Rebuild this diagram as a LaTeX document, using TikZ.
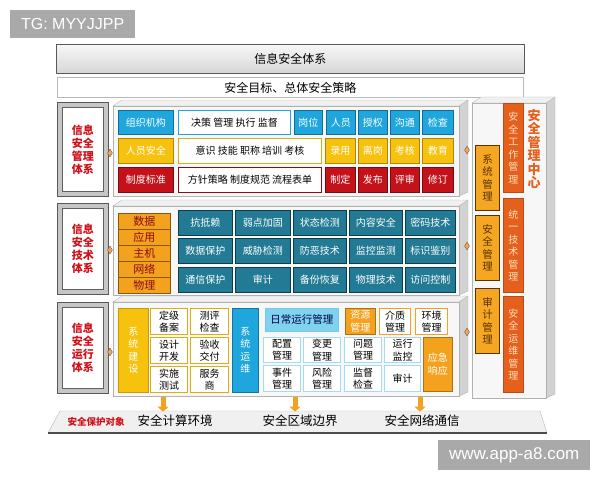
\documentclass[tikz,border=0pt]{standalone}
\usepackage{fontspec}
\setmainfont{Noto Sans CJK SC}
\newfontfamily\wmfont{Liberation Sans}
\usetikzlibrary{arrows.meta,shapes.geometric}

\definecolor{mgblue}{HTML}{1EA6DD}
\definecolor{mgyellow}{HTML}{F6C20E}
\definecolor{mgred}{HTML}{C4121A}
\definecolor{tkteal}{HTML}{227A94}
\definecolor{tkorange}{HTML}{F4A11E}
\definecolor{oplight}{HTML}{7FD3F0}
\definecolor{ctred}{HTML}{E4601C}
\definecolor{ctorange}{HTML}{F5A623}
\definecolor{ctbrown}{HTML}{5A3200}
\definecolor{labred}{HTML}{D0101A}
\definecolor{wmgray}{HTML}{A9A9A9}

\tikzset{
  cellbox/.style={draw, line width=.6pt, inner sep=0pt, align=center, font=\fontsize{10}{12.5}\selectfont},
  bluecell/.style={cellbox, fill=mgblue, draw=mgblue!65!black, text=white},
  yellowcell/.style={cellbox, fill=mgyellow, draw=mgyellow!70!black, text=white},
  redcell/.style={cellbox, fill=mgred, draw=mgred!60!black, text=white},
  bluewhite/.style={cellbox, fill=white, draw=mgblue, line width=1pt},
  yellowwhite/.style={cellbox, fill=white, draw=mgyellow!90!black, line width=1pt},
  redwhite/.style={cellbox, fill=white, draw=mgred!70!black, line width=1pt},
  stackcell/.style={cellbox, fill=tkorange, draw=tkorange!55!black, text=mgred!70!black, font=\fontsize{11}{13}\selectfont},
  tealcell/.style={cellbox, fill=tkteal, draw=tkteal!50!black, text=white},
  yellowbar/.style={cellbox, fill=mgyellow, draw=mgyellow!80!black, text=white},
  bluebar/.style={cellbox, fill=mgblue, draw=mgblue!70!black, text=white},
  yellowframe/.style={cellbox, fill=white, draw=mgyellow!90!black, line width=1pt},
  lightcell/.style={cellbox, fill=oplight, draw=mgblue!60, text=blue!25!black, font=\fontsize{10.5}{12.5}\selectfont},
  orangecell/.style={cellbox, fill=tkorange, draw=tkorange!70!black, text=white},
  orangewhite/.style={cellbox, fill=white, draw=tkorange, line width=1pt},
  cyanframe/.style={cellbox, fill=white, draw=mgblue!40, line width=1pt},
  centerbox/.style={cellbox, fill=ctorange, draw=ctbrown, line width=1pt, text=ctbrown, font=\fontsize{10.5}{12.5}\selectfont},
  centerbar/.style={cellbox, fill=ctred, draw=ctred!80!black, text=orange!25, font=\fontsize{10}{12.5}\selectfont},
  centertitle/.style={inner sep=0pt, align=center, text=ctred, font=\bfseries\fontsize{13}{13.5}\selectfont},
  labelframe/.style={draw=gray!70!black, fill=gray!45, line width=.6pt},
  labelinner/.style={draw=gray!75!black, fill=white, line width=.6pt, inner sep=0pt, align=center, text=labred, font=\bfseries\fontsize{11}{13}\selectfont},
  titlebar/.style={draw=gray!70!black, line width=.8pt, top color=gray!6, bottom color=gray!32, font=\fontsize{12}{14}\selectfont},
  goalbar/.style={draw=gray!55, line width=.8pt, fill=white, font=\fontsize{12}{14}\selectfont},
  knot/.style={diamond, fill=brown!45!orange!70, draw=brown!60!black, line width=.3pt, minimum width=5pt, minimum height=8pt, inner sep=0pt},
  downarrow/.style={line width=5pt, draw=tkorange, -{Triangle[width=11pt,length=5pt]}},
  objtitle/.style={text=labred, font=\bfseries\fontsize{9.5}{11}\selectfont},
  objtext/.style={font=\fontsize{12.5}{14}\selectfont},
  wmbox/.style={fill=wmgray, inner sep=0pt, text=white},
}

% cell: name, style, x1, y1, x2, y2, text
\newcommand{\cell}[7]{\node[#2, anchor=north west, minimum width={(#5-#3)*1pt}, minimum height={(#6-#4)*1pt}] (#1) at (#3,#4) {#7};}
% slab: front face x1, y1, x2, y2
\newcommand{\slab}[4]{%
  \filldraw[fill=gray!35, draw=gray!60] (#3,#2) -- (#3+9,#2-6) -- (#3+9,#4-4) -- (#3,#4) -- cycle;
  \filldraw[fill=gray!12, draw=gray!60] (#1,#2) -- (#1+9,#2-6) -- (#3+9,#2-6) -- (#3,#2) -- cycle;
  \filldraw[fill=gray!6, draw=gray!60] (#1,#2) rectangle (#3,#4);}

\begin{document}
\begin{tikzpicture}[x=1pt, y=-1pt]
\useasboundingbox[fill=white] (0,0) rectangle (600,480);

% title bars
\cell{tixi}{titlebar}{56}{44}{524}{73}{信息安全体系}
\cell{mubiao}{goalbar}{57}{77}{523}{97}{安全目标、总体安全策略}

% panels
\slab{113}{106}{459}{196}
\slab{113}{206}{459}{295}
\slab{113}{302}{459}{396}
\slab{472}{103}{546}{398}

% left labels
\cell{glframe}{labelframe}{57}{102}{108}{196}{}
\cell{gllabel}{labelinner}{62}{107}{103}{191}{信息\\安全\\管理\\体系}
\cell{jsframe}{labelframe}{57}{203}{108}{294}{}
\cell{jslabel}{labelinner}{62}{208}{103}{289}{信息\\安全\\技术\\体系}
\cell{yxframe}{labelframe}{57}{302}{108}{393}{}
\cell{yxlabel}{labelinner}{62}{307}{103}{388}{信息\\安全\\运行\\体系}

\node[knot] (kl1) at (110,153) {};
\node[knot] (kl2) at (110,250) {};
\node[knot] (kl3) at (110,352) {};
\node[knot] (kr1) at (467,150) {};
\node[knot] (kr2) at (467,246) {};
\node[knot] (kr3) at (467,332) {};

% management
\cell{zzjg}{bluecell}{118}{110}{173}{134}{组织机构}
\cell{jcgl}{bluewhite}{178}{110}{290}{134}{决策 管理 执行 监督}
\cell{gw}{bluecell}{294}{110}{322}{134}{岗位}
\cell{ry}{bluecell}{326}{110}{355}{134}{人员}
\cell{sq}{bluecell}{358}{110}{387}{134}{授权}
\cell{gt}{bluecell}{390}{110}{419}{134}{沟通}
\cell{jc}{bluecell}{422}{110}{453}{134}{检查}
\cell{ryaq}{yellowcell}{118}{138}{173}{163}{人员安全}
\cell{ysjn}{yellowwhite}{178}{138}{321}{163}{意识 技能 职称 培训 考核}
\cell{ly}{yellowcell}{325}{138}{355}{163}{录用}
\cell{lg}{yellowcell}{358}{138}{387}{163}{离岗}
\cell{kh}{yellowcell}{390}{138}{419}{163}{考核}
\cell{jy}{yellowcell}{422}{138}{453}{163}{教育}
\cell{zdbz}{redcell}{118}{167}{173}{192}{制度标准}
\cell{fzcl}{redwhite}{178}{167}{321}{192}{方针策略 制度规范 流程表单}
\cell{zd}{redcell}{325}{167}{355}{192}{制定}
\cell{fb}{redcell}{358}{167}{387}{192}{发布}
\cell{ps}{redcell}{390}{167}{419}{192}{评审}
\cell{xd}{redcell}{422}{167}{453}{192}{修订}

% technology
\cell{sj}{stackcell}{118}{213}{170}{229}{数据}
\cell{yy}{stackcell}{118}{229}{170}{245}{应用}
\cell{zj}{stackcell}{118}{245}{170}{261}{主机}
\cell{wl}{stackcell}{118}{261}{170}{277}{网络}
\cell{wli}{stackcell}{118}{277}{170}{293}{物理}
\cell{kdl}{tealcell}{178}{210}{232}{235}{抗抵赖}
\cell{rdjg}{tealcell}{235}{210}{290}{235}{弱点加固}
\cell{ztjc}{tealcell}{293}{210}{346}{235}{状态检测}
\cell{nraq}{tealcell}{349}{210}{402}{235}{内容安全}
\cell{mmjs}{tealcell}{405}{210}{455}{235}{密码技术}
\cell{sjbh}{tealcell}{178}{238}{232}{263}{数据保护}
\cell{wxjc}{tealcell}{235}{238}{290}{263}{威胁检测}
\cell{fejs}{tealcell}{293}{238}{346}{263}{防恶技术}
\cell{jkjc}{tealcell}{349}{238}{402}{263}{监控监测}
\cell{bsjb}{tealcell}{405}{238}{455}{263}{标识鉴别}
\cell{txbh}{tealcell}{178}{267}{232}{292}{通信保护}
\cell{sji}{tealcell}{235}{267}{290}{292}{审计}
\cell{bfhf}{tealcell}{293}{267}{346}{292}{备份恢复}
\cell{wljs}{tealcell}{349}{267}{402}{292}{物理技术}
\cell{fwkz}{tealcell}{405}{267}{455}{292}{访问控制}

% operations
\cell{xtjs}{yellowbar}{118}{308}{148}{392}{系\\统\\建\\设}
\cell{djba}{yellowframe}{150}{308}{187}{334}{定级\\备案}
\cell{cpjc}{yellowframe}{190}{308}{228}{334}{测评\\检查}
\cell{sjkf}{yellowframe}{150}{337}{187}{363}{设计\\开发}
\cell{ysjf}{yellowframe}{190}{337}{228}{363}{验收\\交付}
\cell{sscs}{yellowframe}{150}{366}{187}{392}{实施\\测试}
\cell{fws}{yellowframe}{190}{366}{228}{392}{服务\\商}
\cell{xtyw}{bluebar}{232}{308}{258}{392}{系\\统\\运\\维}
\cell{rcyx}{lightcell}{265}{308}{338}{331}{日常运行管理}
\cell{zygl}{orangecell}{345}{308}{375}{334}{资源\\管理}
\cell{jzgl}{orangewhite}{379}{308}{410}{334}{介质\\管理}
\cell{hjgl}{orangewhite}{415}{308}{447}{334}{环境\\管理}
\cell{pzgl}{cyanframe}{263}{337}{300}{362}{配置\\管理}
\cell{bggl}{cyanframe}{303}{337}{340}{362}{变更\\管理}
\cell{wtgl}{cyanframe}{344}{337}{381}{362}{问题\\管理}
\cell{yxjk}{cyanframe}{384}{337}{420}{362}{运行\\监控}
\cell{sjgli}{cyanframe}{263}{365}{300}{391}{事件\\管理}
\cell{fxgl}{cyanframe}{303}{365}{340}{391}{风险\\管理}
\cell{jdjc}{cyanframe}{344}{365}{381}{391}{监督\\检查}
\cell{shj}{cyanframe}{384}{365}{420}{391}{审计}
\cell{yjxy}{orangecell}{423}{337}{452}{391}{应急\\响应}

% security management centre
\cell{xtgl}{centerbox}{475}{145}{499}{210}{系\\统\\管\\理}
\cell{aqgl}{centerbox}{475}{215}{499}{280}{安\\全\\管\\理}
\cell{sjgl}{centerbox}{475}{288}{499}{353}{审\\计\\管\\理}
\cell{gzgl}{centerbar}{503}{103}{523}{192}{安\\全\\工\\作\\管\\理}
\cell{jsgl}{centerbar}{503}{198}{523}{292}{统\\一\\技\\术\\管\\理}
\cell{ywgl}{centerbar}{503}{296}{523}{392}{安\\全\\运\\维\\管\\理}
\node[centertitle] (glzx) at (534,149) {安\\全\\管\\理\\中\\心};

% protected objects
\filldraw[fill=gray!12, draw=gray!55] (48,433) -- (60,411) -- (540,411) -- (547,433) -- cycle;
\draw[gray!60!black, line width=1.2pt] (48,433) -- (547,433);
\node[objtitle] (bhdx) at (96,422) {安全保护对象};
\node[objtext] (jshj) at (175,421) {安全计算环境};
\node[objtext] (qybj) at (300,421) {安全区域边界};
\node[objtext] (wltx) at (422,421) {安全网络通信};
\coordinate (a1) at (163,397);
\coordinate (a2) at (295,397);
\coordinate (a3) at (420,397);
\draw[downarrow] (a1) -- (jshj.north -| a1);
\draw[downarrow] (a2) -- (qybj.north -| a2);
\draw[downarrow] (a3) -- (wltx.north -| a3);

% marks
\cell{wmtg}{wmbox, font=\wmfont\fontsize{16}{18}\selectfont}{10}{10}{135}{38}{TG: MYYJJPP}
\cell{wmurl}{wmbox, font=\wmfont\fontsize{17}{19}\selectfont}{438}{440}{590}{470}{www.app-a8.com}
\end{tikzpicture}
\end{document}
